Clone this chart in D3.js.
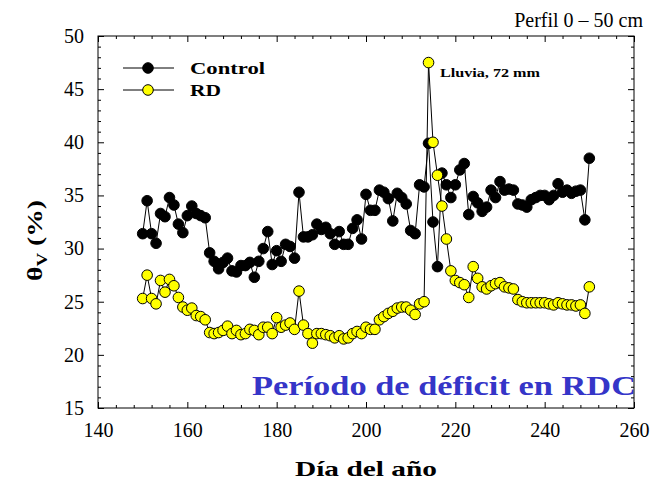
<!DOCTYPE html>
<html>
<head>
<meta charset="utf-8">
<script src="https://cdn.jsdelivr.net/npm/d3@7"></script>
<style>
  body { margin: 0; background: #fff; }
  text { font-family: "Liberation Serif", "Times New Roman", serif; }
</style>
</head>
<body>
<div id="chart"></div>
<script>
// days of year, one reading per day
const days = d3.range(150, 251);

const control = [
  31.4, 34.5, 31.4, 30.5, 33.3, 33.0, 34.8, 34.1, 32.3, 31.5,
  33.1, 34.0, 33.3, 33.1, 32.9, 29.6, 28.8, 28.1, 28.7, 29.1,
  27.9, 27.8, 28.4, 28.4, 28.7, 27.3, 28.8, 30.0, 31.6, 28.5,
  29.8, 28.8, 30.4, 30.2, 29.1, 35.3, 31.1, 31.1, 31.3, 32.3,
  31.8, 32.0, 31.4, 30.4, 31.6, 30.4, 30.4, 31.9, 32.7, 30.9,
  35.1, 33.6, 33.6, 35.5, 35.3, 34.7, 32.6, 35.2, 34.8, 34.2,
  31.7, 31.4, 36.0, 35.8, 39.9, 32.5, 28.3, 37.1, 36.0, 34.8,
  36.0, 37.4, 38.0, 33.2, 34.9, 34.3, 33.5, 33.9, 35.5, 34.8,
  36.3, 35.5, 35.6, 35.5, 34.2, 34.1, 33.9, 34.6, 34.8, 35.0,
  35.0, 34.6, 35.0, 36.1, 35.3, 35.5, 35.2, 35.4, 35.5, 32.7,
  38.5
];

const rd = [
  25.3, 27.5, 25.3, 24.8, 27.0, 25.9, 27.1, 26.5, 25.4, 24.5,
  24.2, 24.4, 23.7, 23.6, 23.3, 22.1, 22.0, 22.1, 22.3, 22.7,
  22.0, 22.3, 21.9, 22.0, 22.4, 22.3, 21.9, 22.6, 22.6, 22.0,
  23.5, 22.6, 22.8, 23.0, 22.4, 26.0, 22.8, 22.0, 21.1, 22.0,
  22.0, 21.9, 21.8, 21.6, 21.8, 21.5, 21.6, 22.0, 22.2, 22.0,
  22.6, 22.4, 22.4, 23.3, 23.6, 23.9, 24.1, 24.4, 24.5, 24.5,
  24.2, 23.8, 24.8, 25.0, 47.5, 40.0, 36.9, 34.0, 30.9, 27.9,
  27.0, 26.8, 26.6, 25.4, 28.3, 27.2, 26.4, 26.2, 26.5, 26.7,
  26.8, 26.4, 26.3, 26.2, 25.2, 25.0, 24.9, 24.9, 24.9, 24.9,
  24.9, 24.8, 24.7, 24.9, 24.8, 24.7, 24.7, 24.6, 24.7, 23.9,
  26.4
];

const xTicks = [140, 160, 180, 200, 220, 240, 260];
const yTicks = [15, 20, 25, 30, 35, 40, 45, 50];

const W = 656, H = 486;
const svg = d3.select("#chart").append("svg")
  .attr("width", W).attr("height", H);

const x = d3.scaleLinear().domain([140, 260]).range([98, 634]);
const y = d3.scaleLinear().domain([15, 50]).range([408, 36]);

// frame
svg.append("rect")
  .attr("x", x(140)).attr("y", y(50))
  .attr("width", x(260) - x(140)).attr("height", y(15) - y(50))
  .attr("fill", "none").attr("stroke", "#000").attr("stroke-width", 1);

const minorX = d3.range(140, 261, 4).filter(d => !xTicks.includes(d));
const minorY = d3.range(15, 51, 1).filter(d => !yTicks.includes(d));

function styleAxis(g) {
  g.select(".domain").remove();
  g.selectAll("text").attr("font-size", 20).attr("fill", "#000")
    .style("font-family", "'Liberation Serif', serif");
}

// major ticks, inward
svg.append("g").attr("transform", `translate(0,${y(15)})`)
  .call(d3.axisBottom(x).tickValues(xTicks).tickSize(-6).tickPadding(15).tickFormat(d3.format("d")))
  .call(styleAxis);
svg.append("g").attr("transform", `translate(0,${y(50)})`)
  .call(d3.axisTop(x).tickValues(xTicks).tickSize(-6).tickFormat(""))
  .call(styleAxis);
svg.append("g").attr("transform", `translate(${x(140)},0)`)
  .call(d3.axisLeft(y).tickValues(yTicks).tickSize(-6).tickPadding(14))
  .call(styleAxis);
svg.append("g").attr("transform", `translate(${x(260)},0)`)
  .call(d3.axisRight(y).tickValues(yTicks).tickSize(-6).tickFormat(""))
  .call(styleAxis);

// minor ticks
svg.append("g").attr("transform", `translate(0,${y(15)})`)
  .call(d3.axisBottom(x).tickValues(minorX).tickSize(-3).tickFormat(""))
  .call(styleAxis);
svg.append("g").attr("transform", `translate(0,${y(50)})`)
  .call(d3.axisTop(x).tickValues(minorX).tickSize(-3).tickFormat(""))
  .call(styleAxis);
svg.append("g").attr("transform", `translate(${x(140)},0)`)
  .call(d3.axisLeft(y).tickValues(minorY).tickSize(-3).tickFormat(""))
  .call(styleAxis);
svg.append("g").attr("transform", `translate(${x(260)},0)`)
  .call(d3.axisRight(y).tickValues(minorY).tickSize(-3).tickFormat(""))
  .call(styleAxis);

const line = d3.line().x(d => x(d[0])).y(d => y(d[1]));
const series = [
  { name: "Control", values: control, fill: "#000000", len: 75 },
  { name: "RD", values: rd, fill: "#ffff00", len: 31 }
];

series.forEach(s => {
  const pts = days.map((d, i) => [d, s.values[i]]);
  svg.append("path").datum(pts)
    .attr("d", line).attr("fill", "none")
    .attr("stroke", "#000").attr("stroke-width", 1);
  svg.append("g").selectAll("circle").data(pts).enter()
    .append("circle")
    .attr("cx", d => x(d[0])).attr("cy", d => y(d[1]))
    .attr("r", 5.3)
    .attr("fill", s.fill).attr("stroke", "#000").attr("stroke-width", 1);
});

// legend
const leg = svg.append("g");
series.forEach((s, i) => {
  const ly = 68 + i * 22;
  leg.append("line").attr("x1", 123).attr("x2", 174).attr("y1", ly).attr("y2", ly)
    .attr("stroke", "#000").attr("stroke-width", 1);
  leg.append("circle").attr("cx", 148).attr("cy", ly).attr("r", 5.3)
    .attr("fill", s.fill).attr("stroke", "#000");
  leg.append("text").attr("x", 190).attr("y", ly + 6)
    .attr("font-size", 17).attr("font-weight", "bold")
    .attr("textLength", s.len).attr("lengthAdjust", "spacingAndGlyphs")
    .text(s.name);
});

// annotations
svg.append("text").attr("x", 440).attr("y", 77)
  .attr("font-size", 12).attr("font-weight", "bold")
  .attr("textLength", 100).attr("lengthAdjust", "spacingAndGlyphs")
  .text("Lluvia, 72 mm");

svg.append("text").attr("x", 252).attr("y", 395)
  .attr("font-size", 27).attr("font-weight", "bold").attr("fill", "#3535c8")
  .attr("textLength", 384).attr("lengthAdjust", "spacingAndGlyphs")
  .text("Período de déficit en RDC");

svg.append("text").attr("x", 643).attr("y", 27).attr("text-anchor", "end")
  .attr("font-size", 20).text("Perfil 0 – 50 cm");

// axis titles
svg.append("text").attr("x", 295).attr("y", 476)
  .attr("font-size", 22).attr("font-weight", "bold")
  .attr("textLength", 142).attr("lengthAdjust", "spacingAndGlyphs")
  .text("Día del año");

const yt = svg.append("text")
  .attr("transform", "translate(42,281) rotate(-90)")
  .attr("font-size", 22).attr("font-weight", "bold")
  .attr("textLength", 81).attr("lengthAdjust", "spacingAndGlyphs");
yt.append("tspan").text("θ");
yt.append("tspan").attr("font-size", 15).attr("dy", 5).text("V");
yt.append("tspan").attr("dy", -5).text(" (%)");
</script>
</body>
</html>
